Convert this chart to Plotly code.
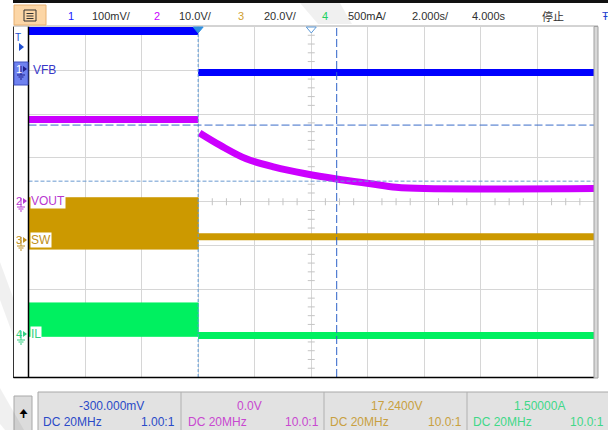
import numpy as np
import plotly.graph_objects as go

W, H = 608, 430
# screen geometry of the graticule (pixels)
X0, X1 = 28.5, 594.0
Y0, Y1 = 26.5, 377.0

# ---------------- data (time in s, 2 s/div ; amplitude in screen divisions 0..8) -------------
t_before = [0.0, 6.0]
t_after = [6.0, 20.0]
vfb_before = [7.9, 7.9]
vfb_after = [6.95, 6.95]
vout_before = [5.88, 5.88]
vout_t = [6.05, 6.8, 7.7, 8.7, 9.8, 10.9, 12.1, 13.0, 14.0, 20.0]
vout_after = [5.57, 5.28, 4.98, 4.79, 4.64, 4.52, 4.41, 4.33, 4.30, 4.30]
sw_before_hi = 4.09
sw_before_lo = 2.92
sw_after = [3.2, 3.2]
il_before_hi = 1.69
il_before_lo = 0.93
il_after = [0.95, 0.95]
trig_t = 6.0
cursor_t = 10.9
cursor_y = [5.75, 4.47]

header_items = ["1", "100mV/", "2", "10.0V/", "3", "20.0V/", "4", "500mA/", "2.000s/", "4.000s", "停止"]
ch_values = ["-300.000mV", "0.0V", "17.2400V", "1.50000A"]
ch_coupling = ["DC 20MHz", "DC 20MHz", "DC 20MHz", "DC 20MHz"]
ch_probe = ["1.00:1", "10.0:1", "10.0:1", "10.0:1"]
ch_names = ["VFB", "VOUT", "SW", "IL"]

C1, C2, C3, C4 = "#0000ff", "#cc00ff", "#cc9900", "#00f060"
FONT = "Liberation Sans, Arial, sans-serif"


def px(x):
    return x / W


def py(y):
    return 1 - y / H


def tx(t):
    return X0 + t / 20.0 * (X1 - X0)


fig = go.Figure()

# centre graticule minor ticks (under the traces)
hx = [v for v in np.arange(0, 20.01, 0.5) if abs(v / 2 - round(v / 2)) > 1e-6]
fig.add_trace(go.Scatter(x=hx, y=[4] * len(hx), mode="markers",
                         marker=dict(symbol="line-ns", size=5, line=dict(color="#c4c4c4", width=1)),
                         hoverinfo="skip"))
vy = [v for v in np.arange(0, 8.01, 0.2) if abs(v - round(v)) > 1e-6]
fig.add_trace(go.Scatter(x=[10] * len(vy), y=vy, mode="markers",
                         marker=dict(symbol="line-ew", size=5, line=dict(color="#c4c4c4", width=1)),
                         hoverinfo="skip"))

# SW before trigger: filled band
fig.add_trace(go.Scatter(x=[t_before[0], t_before[1], t_before[1], t_before[0], t_before[0]],
                         y=[sw_before_hi, sw_before_hi, sw_before_lo, sw_before_lo, sw_before_hi],
                         fill="toself", fillcolor=C3, line=dict(color=C3, width=1),
                         mode="lines", hoverinfo="skip"))
fig.add_trace(go.Scatter(x=t_after, y=sw_after, mode="lines", line=dict(color=C3, width=7), hoverinfo="skip"))
# IL
fig.add_trace(go.Scatter(x=[t_before[0], t_before[1], t_before[1], t_before[0], t_before[0]],
                         y=[il_before_hi, il_before_hi, il_before_lo, il_before_lo, il_before_hi],
                         fill="toself", fillcolor=C4, line=dict(color=C4, width=1),
                         mode="lines", hoverinfo="skip"))
fig.add_trace(go.Scatter(x=t_after, y=il_after, mode="lines", line=dict(color=C4, width=7), hoverinfo="skip"))
# VOUT
fig.add_trace(go.Scatter(x=t_before, y=vout_before, mode="lines", line=dict(color=C2, width=7), hoverinfo="skip"))
fig.add_trace(go.Scatter(x=vout_t, y=vout_after, mode="lines", line=dict(color=C2, width=7, shape="spline"),
                         hoverinfo="skip"))
# VFB
fig.add_trace(go.Scatter(x=t_before, y=vfb_before, mode="lines", line=dict(color=C1, width=8), hoverinfo="skip"))
fig.add_trace(go.Scatter(x=t_after, y=vfb_after, mode="lines", line=dict(color=C1, width=7), hoverinfo="skip"))

shapes = []
# cursors
shapes.append(dict(type="line", xref="x", yref="y", x0=trig_t, x1=trig_t, y0=0, y1=8,
                   line=dict(color="#5d9ad8", width=1, dash="3px,2px")))
shapes.append(dict(type="line", xref="x", yref="y", x0=cursor_t, x1=cursor_t, y0=0, y1=8,
                   line=dict(color="#2d62c8", width=1, dash="8px,3px")))
shapes.append(dict(type="line", xref="x", yref="y", x0=0, x1=20, y0=cursor_y[0], y1=cursor_y[0],
                   line=dict(color="#3a6cc8", width=1, dash="8px,3px")))
shapes.append(dict(type="line", xref="x", yref="y", x0=0, x1=20, y0=cursor_y[1], y1=cursor_y[1],
                   line=dict(color="#6a9ad0", width=1, dash="4px,2px")))

# frame
shapes.append(dict(type="line", xref="paper", yref="paper", x0=px(X0), x1=px(X0), y0=py(Y0), y1=py(Y1 + 1),
                   line=dict(color="#000", width=1.5)))
shapes.append(dict(type="line", xref="paper", yref="paper", x0=px(13.5), x1=px(13.5), y0=py(Y0), y1=py(Y1 + 1),
                   line=dict(color="#333", width=1)))
shapes.append(dict(type="line", xref="paper", yref="paper", x0=px(13.5), x1=px(X1), y0=py(Y1 + 0.5), y1=py(Y1 + 0.5),
                   line=dict(color="#000", width=1.5)))
shapes.append(dict(type="line", xref="paper", yref="paper", x0=px(13.5), x1=px(598), y0=py(Y0 - 0.5), y1=py(Y0 - 0.5),
                   line=dict(color="#a8a8a8", width=1)))
shapes.append(dict(type="rect", xref="paper", yref="paper", x0=px(X1), x1=px(598), y0=py(Y0), y1=py(Y1 + 1),
                   fillcolor="#d8d8d8", line=dict(color="#a0a0a0", width=1)))

# header
shapes.append(dict(type="rect", xref="paper", yref="paper", x0=px(13), x1=px(608), y0=py(0), y1=py(3),
                   fillcolor="#111", line=dict(width=0)))
shapes.append(dict(type="rect", xref="paper", yref="paper", x0=px(14), x1=px(46), y0=py(5), y1=py(25),
                   fillcolor="#fcd6a6", line=dict(color="#e8b070", width=1)))
shapes.append(dict(type="rect", xref="paper", yref="paper", x0=px(24), x1=px(36), y0=py(10), y1=py(21),
                   fillcolor="rgba(0,0,0,0)", line=dict(color="#333", width=1)))
for yy in (13.5, 16, 18.5):
    shapes.append(dict(type="line", xref="paper", yref="paper", x0=px(26.5), x1=px(33.5), y0=py(yy), y1=py(yy),
                       line=dict(color="#333", width=1)))

# top markers: trigger position (filled) and centre (hollow)
xt = tx(trig_t)
shapes.append(dict(type="path", xref="paper", yref="paper",
                   path=f"M {px(xt - 5)},{py(27)} L {px(xt + 5)},{py(27)} L {px(xt)},{py(33)} Z",
                   fillcolor="#2f8fe0", line=dict(color="#2f8fe0", width=1)))
xc = tx(10)
shapes.append(dict(type="path", xref="paper", yref="paper",
                   path=f"M {px(xc - 5)},{py(27)} L {px(xc + 5)},{py(27)} L {px(xc)},{py(33)} Z",
                   fillcolor="white", line=dict(color="#5d9ad8", width=1)))

# bottom status bar
shapes.append(dict(type="rect", xref="paper", yref="paper", x0=px(14), x1=px(32), y0=py(396), y1=py(432),
                   fillcolor="#dcdcdc", line=dict(color="#a8a8a8", width=1)))
shapes.append(dict(type="rect", xref="paper", yref="paper", x0=px(38), x1=px(612), y0=py(392), y1=py(434),
                   fillcolor="#e2e2e2", line=dict(color="#a8a8a8", width=1)))
for xd in (181, 324, 467):
    shapes.append(dict(type="line", xref="paper", yref="paper", x0=px(xd), x1=px(xd), y0=py(392), y1=py(430),
                       line=dict(color="#b0b0b0", width=1)))

# faint diagonal watermark streaks
for pts in ([(0, 262), (0, 300), (14, 338), (14, 300)],
            [(0, 388), (0, 424), (5, 430), (24, 430)],
            [(300, 3), (340, 3), (352, 24), (318, 24)]):
    path = "M " + " L ".join(f"{px(a)},{py(b)}" for a, b in pts) + " Z"
    shapes.append(dict(type="path", xref="paper", yref="paper", path=path,
                       fillcolor="rgba(0,0,0,0.06)", line=dict(width=0)))

annotations = []


def ann(x, y, text, color, size=12, xanchor="left", bg=None, family=FONT):
    d = dict(x=px(x), y=py(y), xref="paper", yref="paper", text=text, showarrow=False,
             xanchor=xanchor, yanchor="middle", font=dict(family=family, size=size, color=color))
    if bg:
        d["bgcolor"] = bg
        d["borderpad"] = 0
    annotations.append(d)


# header text
hx_pos = [66, 90, 152, 177, 236, 262, 320, 346, 410, 470, 540]
hcol = ["#1a1aff", "#303030", C2, "#303030", "#d0a030", "#303030", "#20d060", "#303030", "#303030", "#303030",
        "#303030"]
for x, t, c in zip(hx_pos, header_items, hcol):
    fam = "Noto Sans CJK SC" if t == "停止" else FONT
    ann(x, 16, t, c, 11, family=fam)
ann(600, 16, "Ŧ", "#2040d0", 11)

# channel labels inside graticule
ann(31, 70, ch_names[0], "#3838c8", 12)
ann(30, 201, ch_names[1], "#b838d0", 12, bg="white")
ann(30, 240, ch_names[2], "#c09020", 12, bg="white")
ann(30, 334, ch_names[3], "#30d080", 12, bg="white")

# left channel markers
shapes.append(dict(type="rect", xref="paper", yref="paper", x0=px(14), x1=px(28), y0=py(62), y1=py(85),
                   fillcolor="#6f82f0", line=dict(color="#4050c0", width=1)))
markers = [(69, "1", "#ffffff"), (201, "2", "#b838d0"), (240, "3", "#c09020"), (334, "4", "#30d080")]
for yy, n, c in markers:
    ann(13.5, yy, n, c, 11)
    lc = "#20208a" if n == "1" else c
    shapes.append(dict(type="path", xref="paper", yref="paper",
                       path=f"M {px(23)},{py(yy - 3)} L {px(27)},{py(yy)} L {px(23)},{py(yy + 3)} Z",
                       fillcolor=lc, line=dict(color=lc, width=0)))
    shapes.append(dict(type="line", xref="paper", yref="paper", x0=px(21), x1=px(21), y0=py(yy - 3), y1=py(yy + 6),
                       line=dict(color=lc, width=1)))
    for k, hw in enumerate((4, 2.5, 1)):
        shapes.append(dict(type="line", xref="paper", yref="paper", x0=px(21 - hw), x1=px(21 + hw),
                           y0=py(yy + 6 + 2 * k), y1=py(yy + 6 + 2 * k), line=dict(color=lc, width=1)))
# trigger level marker
ann(18, 37, "T", "#2050d0", 10, xanchor="center")
shapes.append(dict(type="path", xref="paper", yref="paper",
                   path=f"M {px(19)},{py(43)} L {px(24)},{py(47)} L {px(19)},{py(51)} Z",
                   fillcolor="#2050d0", line=dict(width=0)))

# status bar text
ann(23, 413, "🠉", "#000", 11, xanchor="center", family="DejaVu Sans")
centers = [111, 249, 396, 539]
lefts = [41, 186, 328, 471]
rights = [177, 321, 464, 606]
vcols = ["#2a4ac8", "#c848d0", "#c8a040", "#40d888"]
for i in range(4):
    ann(centers[i], 406, ch_values[i], vcols[i], 12, xanchor="center")
    ann(lefts[i], 422, ch_coupling[i], vcols[i], 12)
    ann(rights[i], 422, ch_probe[i], vcols[i], 12, xanchor="right")

fig.update_layout(
    width=W, height=H, autosize=False,
    margin=dict(l=0, r=0, t=0, b=0),
    paper_bgcolor="white", plot_bgcolor="white",
    showlegend=False,
    xaxis=dict(domain=[px(X0), px(X1)], range=[0, 20], dtick=2, tick0=0, showgrid=True,
               gridcolor="#d6d6d6", gridwidth=1, zeroline=False, showticklabels=False, ticks="",
               showline=False, fixedrange=True),
    yaxis=dict(domain=[py(Y1), py(Y0)], range=[0, 8], dtick=1, tick0=0, showgrid=True,
               gridcolor="#d6d6d6", gridwidth=1, zeroline=False, showticklabels=False, ticks="",
               showline=False, fixedrange=True),
    shapes=shapes, annotations=annotations,
)

fig.write_html("out.html", config={"displayModeBar": False},
               post_script="document.body.style.margin='0';document.body.style.overflow='hidden';")
